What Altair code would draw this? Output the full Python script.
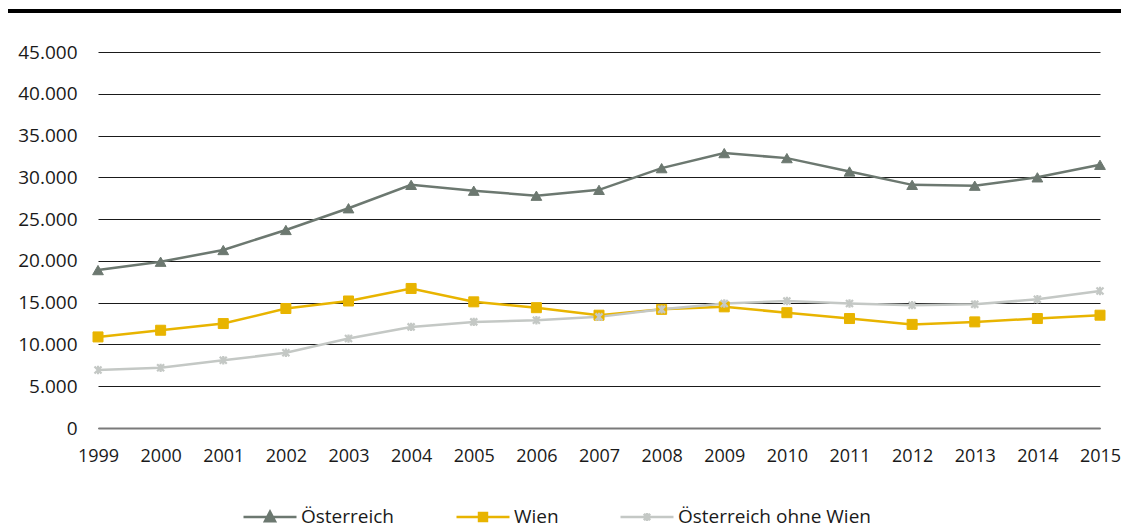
import altair as alt
import pandas as pd

years = list(range(1999, 2016))
series_names = ["Österreich", "Wien", "Österreich ohne Wien"]
oesterreich = [18900, 19900, 21300, 23700, 26300, 29100, 28400, 27800, 28500,
               31100, 32900, 32300, 30700, 29100, 29000, 30000, 31500]
wien = [10900, 11700, 12500, 14300, 15200, 16700, 15100, 14400, 13500,
        14200, 14500, 13800, 13100, 12400, 12700, 13100, 13500]
ohne_wien = [6950, 7200, 8100, 9000, 10700, 12100, 12700, 12900, 13300,
             14200, 14900, 15200, 14900, 14700, 14800, 15400, 16400]
y_ticks = list(range(0, 45001, 5000))

colors = ["#6c7870", "#e8b400", "#c4c8c5"]
markers = ["triangle-up", "square", "M-1,-1L1,1M-1,1L1,-1M0,-1.2V1.2"]
marker_sizes = [115, 100, 49]
marker_strokes = [1, 1, 2.2]
legend_paths = [
    "M-1,0H1M-0.19,0.16L0.19,0.16L0,-0.2Z",
    "M-1,0H1M-0.15,-0.15H0.15V0.15H-0.15Z",
    "M-1,0H1M-0.12,-0.12L0.12,0.12M-0.12,0.12L0.12,-0.12M0,-0.15V0.15",
]

rows = []
for name, vals in zip(series_names, [oesterreich, wien, ohne_wien]):
    for yr, v in zip(years, vals):
        rows.append({"year": yr, "value": v, "series": name})
df = pd.DataFrame(rows)

FONT = "Open Sans"
FS = 19

x_enc = alt.X("year:O", title=None,
              scale=alt.Scale(paddingOuter=0, paddingInner=0, padding=0),
              axis=alt.Axis(labelAngle=0, ticks=False, domain=True, domainColor="#7a7a7a",
                            domainWidth=2, labelPadding=19, labelFont=FONT, labelFontSize=18,
                            labelColor="#1a1a1a", grid=False))
y_enc = alt.Y("value:Q", title=None,
              scale=alt.Scale(domain=[0, 45000], nice=False),
              axis=alt.Axis(values=y_ticks, ticks=False, domain=False, grid=True,
                            gridColor="#1a1a1a", gridWidth=1, labelPadding=21,
                            labelFont=FONT, labelFontSize=FS, labelColor="#1a1a1a",
                            labelExpr="replace(format(datum.value, ','), ',', '.')"))

layers = []
for name, c in zip(series_names, colors):
    layers.append(
        alt.Chart(df).transform_filter(alt.datum.series == name)
        .mark_line(strokeWidth=2.5, color=c)
        .encode(x=x_enc, y=y_enc, order=alt.Order("year:O"))
    )

for name, c, m, s, sw in zip(series_names, colors, markers, marker_sizes, marker_strokes):
    layers.append(
        alt.Chart(df).transform_filter(alt.datum.series == name)
        .mark_point(shape=m, filled=True, size=s, fill=c, stroke=c, strokeWidth=sw, opacity=1)
        .encode(x="year:O", y="value:Q")
    )

leg = alt.Legend(title=None, orient="none", legendX=144, legendY=437, direction="horizontal",
                 symbolSize=2809, symbolStrokeWidth=2.5, labelOffset=3, columnPadding=56,
                 labelFont=FONT, labelFontSize=FS, labelColor="#1a1a1a", padding=0,
                 labelLimit=400, symbolOpacity=1)
legend_layer = alt.Chart(df).transform_filter("false").mark_point(
    filled=True, opacity=1, strokeWidth=2.5
).encode(
    x="year:O", y="value:Q",
    shape=alt.Shape("series:N", scale=alt.Scale(domain=series_names, range=legend_paths), legend=leg),
    fill=alt.Fill("series:N", scale=alt.Scale(domain=series_names, range=colors), legend=leg),
    stroke=alt.Stroke("series:N", scale=alt.Scale(domain=series_names, range=colors), legend=leg),
)
layers.append(legend_layer)

top_rule = alt.Chart(df).mark_rule(color="#000000", strokeWidth=3).encode(
    x=alt.value(-90), x2=alt.value(1031), y=alt.value(-41)
)
layers.append(top_rule)

chart = alt.layer(*layers).properties(
    width=1002, height=376,
    autosize=alt.AutoSizeParams(type="none"),
    padding={"left": 90, "top": 44, "right": 21, "bottom": 100},
).configure_view(stroke=None)

chart.save("out.html", embed_options={"renderer": "svg", "actions": False})
